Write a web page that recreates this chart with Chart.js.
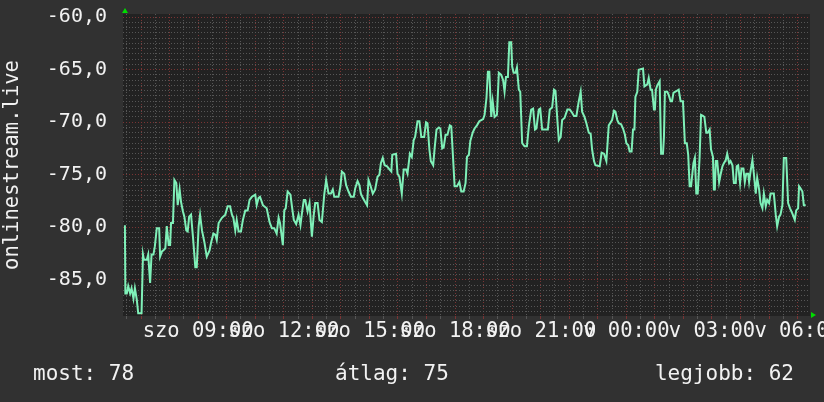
<!DOCTYPE html>
<html lang="hu">
<head>
<meta charset="UTF-8">
<title>onlinestream.live</title>
<style>
    html, body { margin: 0; padding: 0; background: #313131; }
    #wrap { position: relative; width: 824px; height: 402px; }
</style>
</head>
<body>
<div id="wrap"><canvas id="grafikon" width="824" height="402"></canvas></div>

<script src="https://cdn.jsdelivr.net/npm/chart.js"></script>
<script>
// minutes since saturday 00:00
var times = [
    386, 387, 390, 393, 397, 400, 404, 407, 411, 414,
    421, 424, 426, 432, 435, 439, 442, 446, 449, 453,
    458, 460, 464, 467, 471, 474, 478, 481, 483, 487,
    490, 494, 497, 501, 504, 508, 511, 515, 518, 521,
    525, 529, 534, 537, 541, 544, 548, 553, 558, 564,
    567, 572, 576, 579, 583, 590, 597, 602, 607, 611,
    614, 618, 621, 625, 630, 634, 639, 644, 648, 653,
    660, 663, 667, 670, 676, 684, 690, 695, 700, 705,
    709, 712, 718, 721, 724, 728, 734, 737, 741, 746,
    751, 755, 758, 762, 765, 770, 774, 779, 783, 786,
    791, 795, 800, 805, 809, 814, 819, 823, 826, 835,
    839, 842, 847, 851, 856, 861, 867, 870, 875, 879,
    882, 886, 891, 895, 898,
    902, 907, 912, 917, 921, 924, 928, 932, 937, 942,
    946, 948, 956, 959, 963, 968, 972, 977, 980, 985,
    989, 993, 996, 1001, 1005, 1009, 1015, 1019, 1022, 1026,
    1029, 1034, 1037, 1041, 1046, 1049, 1053, 1056, 1060, 1064,
    1069, 1072, 1076, 1079, 1084, 1089, 1093, 1098, 1102, 1105,
    1109, 1112, 1117, 1121, 1126, 1131, 1135, 1139, 1142, 1146,
    1149, 1152, 1156, 1159, 1163, 1168, 1172, 1177, 1181, 1184,
    1187, 1191, 1194, 1198, 1200, 1203, 1207, 1210, 1214, 1217,
    1221, 1226, 1231, 1235, 1240, 1244, 1248, 1251, 1256, 1259,
    1263, 1275, 1279, 1284, 1288, 1291, 1295, 1298, 1302, 1305,
    1310, 1316, 1321, 1326, 1330, 1335, 1340, 1344, 1347, 1352,
    1356, 1361, 1365, 1368, 1372, 1375, 1384, 1388, 1393, 1398,
    1403,
    1410, 1414, 1417, 1421, 1424, 1429, 1433, 1437, 1440, 1444,
    1447, 1451, 1454, 1457, 1459, 1463, 1466, 1475, 1478, 1484,
    1487, 1491, 1494, 1498, 1500, 1502, 1505, 1510, 1513, 1517,
    1519, 1521, 1526, 1529, 1533, 1536, 1539, 1543, 1550, 1554,
    1559, 1563, 1567, 1570, 1573, 1576, 1581, 1584, 1587, 1590,
    1594, 1597, 1601, 1604, 1608, 1611, 1615, 1618, 1622, 1624,
    1626, 1628, 1631, 1635, 1638, 1642, 1645, 1649, 1652, 1656,
    1659, 1663, 1666, 1670, 1672, 1675, 1679, 1682, 1686, 1689,
    1692, 1696, 1698, 1701, 1705, 1708, 1712, 1715, 1719, 1722,
    1726, 1729, 1733, 1736, 1740, 1743, 1750, 1754, 1757, 1761,
    1764, 1768, 1771, 1776, 1780, 1784, 1789, 1794, 1797, 1801,
    1803, 1806, 1810, 1813, 1817
];

var values = [
    -79.8, -86.3, -86.3, -85.6, -86.3, -85.8, -86.8, -85.8, -86.9, -88.2,
    -88.2, -82.6, -83.1, -83.1, -82.6, -85.3, -82.6, -82.6, -81.8, -80.1,
    -80.1, -82.8, -82.3, -82.2, -82.0, -79.9, -81.7, -81.7, -79.6, -79.6,
    -75.5, -75.8, -77.9, -76.4, -77.6, -78.5, -79.0, -80.3, -80.4, -79.0,
    -78.8, -80.9, -83.8, -83.8, -79.9, -78.8, -80.3, -81.4, -82.8, -82.2,
    -81.5, -80.6, -80.7, -81.2, -79.6, -79.1, -78.8, -78.0, -78.0, -78.8,
    -79.1, -80.3, -79.3, -80.4, -80.4, -79.3, -78.4, -78.4, -77.4, -77.1,
    -76.9, -77.9, -77.2, -77.1, -77.9, -78.2, -79.5, -80.1, -80.1, -80.6,
    -79.1, -79.6, -81.7, -78.4, -78.2, -76.6, -76.9, -78.0, -79.3, -79.7,
    -78.8, -79.8, -78.7, -77.4, -77.4, -78.5, -77.7, -80.9, -78.8, -77.7,
    -77.7, -79.3, -79.5, -76.9, -75.5, -76.8, -76.8, -76.4, -77.1, -77.1,
    -76.1, -74.7, -74.9, -76.0, -76.6, -77.1, -77.1, -76.3, -75.6, -76.0,
    -76.8, -77.2, -77.6, -77.9, -75.5,
    -76.0, -76.8, -76.4, -75.2, -75.0, -73.9, -73.4, -74.1, -74.2, -74.5,
    -74.7, -73.1, -73.0, -74.9, -75.2, -76.8, -74.5, -74.5, -74.9, -73.0,
    -73.3, -71.7, -71.4, -69.9, -69.9, -71.4, -71.4, -70.0, -70.1, -72.6,
    -73.7, -74.1, -72.5, -70.7, -70.5, -70.6, -72.5, -72.4, -71.2, -71.2,
    -70.3, -70.4, -73.6, -76.1, -76.1, -75.7, -76.6, -76.6, -75.8, -73.3,
    -73.1, -71.8, -71.0, -70.6, -70.3, -69.9, -69.8, -69.7, -69.3, -67.7,
    -65.2, -65.2, -69.5, -68.0, -69.5, -69.3, -65.3, -65.5, -66.0, -67.1,
    -65.7, -65.7, -62.4, -62.4, -64.7, -65.3, -65.3, -64.8, -66.9, -67.1,
    -72.0, -72.3, -72.3, -70.4, -68.8, -68.7, -70.7, -70.6, -68.8, -68.7,
    -70.7, -70.7, -68.8, -68.6, -66.9, -67.0, -69.8, -71.7, -71.4, -69.8,
    -69.6, -68.8, -68.8, -69.1, -69.4, -69.4, -68.0, -67.1, -69.0, -69.5,
    -70.1, -71.0, -71.1, -72.6, -73.7, -74.1, -74.2, -72.9, -73.0, -73.7,
    -70.3,
    -69.8, -68.9, -69.0, -69.8, -70.1, -70.2, -70.6, -71.2, -72.0, -72.2,
    -72.8, -72.8, -70.7, -70.7, -67.6, -67.1, -65.0, -64.9, -66.6, -66.4,
    -65.8, -66.9, -66.9, -68.8, -68.8, -66.9, -66.5, -66.1, -73.0, -73.0,
    -71.4, -67.1, -67.1, -67.4, -68.0, -68.0, -67.2, -67.1, -66.9, -68.0,
    -68.0, -72.0, -72.0, -73.1, -76.1, -76.1, -73.9, -73.4, -76.8, -76.8,
    -73.3, -69.3, -69.4, -69.5, -71.0, -71.0, -70.7, -72.6, -73.3, -76.4,
    -76.4, -73.7, -73.7, -75.7, -75.0, -74.2, -73.9, -73.6, -73.0, -73.9,
    -73.7, -74.1, -75.8, -75.8, -74.2, -74.1, -75.8, -74.4, -74.4, -75.7,
    -74.9, -74.9, -75.7, -74.7, -73.6, -74.9, -76.8, -75.3, -76.4, -77.7,
    -78.2, -76.8, -78.0, -77.4, -77.7, -76.8, -76.8, -78.8, -79.9, -79.0,
    -78.8, -77.9, -73.4, -73.4, -77.7, -78.2, -78.7, -79.3, -78.4, -78.2,
    -76.1, -76.3, -76.6, -77.9, -77.9
];

// tick labels on the time axis (every 3 hours)
var labelTimes = [540, 720, 900, 1080, 1260, 1440, 1620, 1800];
var labelTexts = ['szo 09:00', 'szo 12:00', 'szo 15:00', 'szo 18:00', 'szo 21:00', 'v 00:00', 'v 03:00', 'v 06:00'];
var yLabelValues = [-60, -65, -70, -75, -80, -85];
var legendTexts = ['most: 78', 'átlag: 75', 'legjobb: 62'];

var fonte = 'DejaVu Sans Mono';
var corTexto = '#f2f2f2';
var corGrade = '#565656';
var corGradeMaior = '#7a3434';

var pontos = times.map(function (t, i) { return { x: t, y: values[i] }; });

var fundo = {
    id: 'fundo',
    beforeDraw: function (chart) {
        var c = chart.ctx, a = chart.chartArea;
        c.save();
        c.fillStyle = '#313131';
        c.fillRect(0, 0, chart.width, chart.height);
        c.fillStyle = '#222222';
        c.fillRect(a.left, a.top, a.right - a.left, a.bottom - a.top);
        c.restore();
    },
    afterDraw: function (chart) {
        var c = chart.ctx, a = chart.chartArea;
        c.save();
        // little green arrows on the axes
        c.fillStyle = '#00dd00';
        c.beginPath();
        c.moveTo(a.left + 2, a.top - 6);
        c.lineTo(a.left - 1, a.top - 1);
        c.lineTo(a.left + 5, a.top - 1);
        c.closePath();
        c.fill();
        c.beginPath();
        c.moveTo(a.right + 6, a.bottom - 1);
        c.lineTo(a.right + 1, a.bottom - 4);
        c.lineTo(a.right + 1, a.bottom + 2);
        c.closePath();
        c.fill();
        // stats line under the chart
        c.fillStyle = corTexto;
        c.font = '21px "' + fonte + '"';
        c.textBaseline = 'middle';
        c.textAlign = 'left';
        c.fillText(legendTexts[0], 33, 375);
        c.fillText(legendTexts[1], 335, 375);
        c.textAlign = 'right';
        c.fillText(legendTexts[2], 794, 375);
        c.restore();
    }
};

new Chart(document.getElementById('grafikon'), {
    type: 'line',
    data: {
        datasets: [{
            data: pontos,
            borderColor: '#7ff0b8',
            borderWidth: 2,
            pointRadius: 0,
            tension: 0,
            fill: false
        }]
    },
    options: {
        responsive: false,
        animation: false,
        devicePixelRatio: 1,
        layout: { padding: { top: 14, right: 14, bottom: 0, left: 0 } },
        plugins: {
            legend: { display: false },
            tooltip: { enabled: false }
        },
        scales: {
            x: {
                type: 'linear',
                min: 382,
                max: 1826,
                offset: false,
                afterFit: function (s) { s.height = 86; s.paddingLeft = 0; s.paddingRight = 0; },
                border: { display: false, dash: [1, 2] },
                grid: {
                    color: function (ctx) { return ctx.tick.value % 60 === 0 ? corGradeMaior : corGrade; },
                    tickColor: function (ctx) { return ctx.tick.value % 60 === 0 ? corGradeMaior : corGrade; },
                    tickLength: 3,
                    lineWidth: 1
                },
                ticks: {
                    stepSize: 30,
                    includeBounds: false,
                    autoSkip: false,
                    maxRotation: 0,
                    minRotation: 0,
                    padding: 0,
                    color: corTexto,
                    font: { family: fonte, size: 20.5 },
                    callback: function (v) {
                        var i = labelTimes.indexOf(v);
                        return i >= 0 ? labelTexts[i] : '';
                    }
                }
            },
            y: {
                min: -88.45,
                max: -59.7,
                afterFit: function (s) { s.width = 123; s.paddingTop = 0; s.paddingBottom = 0; },
                border: { display: false, dash: [1, 2] },
                grid: {
                    drawTicks: false,
                    color: function (ctx) { return yLabelValues.indexOf(ctx.tick.value) >= 0 ? corGradeMaior : corGrade; },
                    lineWidth: 1
                },
                ticks: {
                    stepSize: 0.5,
                    includeBounds: false,
                    autoSkip: false,
                    padding: 16,
                    color: corTexto,
                    font: { family: fonte, size: 20 },
                    callback: function (v) {
                        return yLabelValues.indexOf(v) >= 0 ? v.toFixed(1).replace('.', ',') : '';
                    }
                },
                title: {
                    display: true,
                    text: 'onlinestream.live',
                    color: corTexto,
                    font: { family: fonte, size: 20.5 },
                    padding: { top: 0, bottom: 0 }
                }
            }
        }
    },
    plugins: [fundo]
});
</script>
</body>
</html>
